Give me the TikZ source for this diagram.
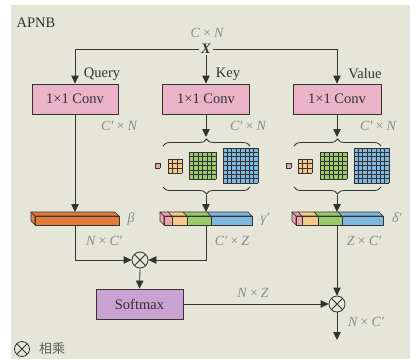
\documentclass[tikz,border=0pt]{standalone}
\usepackage{fontspec}
\setmainfont{Liberation Serif}
\newfontfamily\cjk{Noto Sans CJK SC}
\usetikzlibrary{arrows.meta,decorations.pathreplacing,calc}
\definecolor{bg}{HTML}{E5E6D8}
\definecolor{lc}{HTML}{333333}
\definecolor{labgray}{HTML}{8C8C8C}
\definecolor{convpink}{HTML}{EAB3C8}
\definecolor{softpurple}{HTML}{C9A2D2}
\definecolor{cpink}{HTML}{EBA3AE}
\definecolor{corange}{HTML}{F6C887}
\definecolor{cgreen}{HTML}{9ACA6C}
\definecolor{cblue}{HTML}{7DB6DE}
\definecolor{barorange}{HTML}{E27A38}
\tikzset{
  box/.style={draw=lc, line width=0.8pt, minimum height=30pt, inner sep=0pt, text=lc},
  lab/.style={text=labgray, font=\fontsize{14}{16}\selectfont\itshape, inner sep=0pt},
  txt/.style={text=lc, inner sep=0pt},
  gridl/.style={draw=lc, line width=0.55pt},
  mult/.style={circle, draw=lc, line width=0.8pt, minimum size=16pt, inner sep=0pt,
    path picture={\draw[lc, line width=0.8pt] (path picture bounding box.north west) -- (path picture bounding box.south east)
      (path picture bounding box.north east) -- (path picture bounding box.south west);}},
  conn/.style={draw=lc, line width=0.8pt},
  arr/.style={conn, -{Triangle[length=8pt,width=7.5pt]}},
  brc/.style={draw=lc, line width=0.8pt, decorate, decoration={brace, amplitude=7pt}}
}
\newcommand\gridsq[5]{%
  \begin{scope}[shift={(#1,#2)}]
    \fill[#5] (0,0) rectangle (#3,#3);
    \pgfmathsetmacro\cs{#3/#4}
    \foreach \i in {0,...,#4}{\draw[gridl] (\i*\cs,0) -- (\i*\cs,#3); \draw[gridl] (0,\i*\cs) -- (#3,\i*\cs);}
  \end{scope}}
\newcommand\barseg[3]{%
  \filldraw[fill=#3, draw=lc, line width=0.7pt, line join=round] (#1-4,212) -- (#2-4,212) -- (#2,216) -- (#1,216) -- cycle;
  \filldraw[fill=#3, draw=lc, line width=0.7pt] (#1,216) rectangle (#2,225);}
\newcommand\barleft[2]{%
  \filldraw[fill=#2, draw=lc, line width=0.7pt, line join=round] (#1-4,212) -- (#1,216) -- (#1,225) -- (#1-4,221) -- cycle;}
\begin{document}
\begin{tikzpicture}[x=1pt, y=-1pt, font=\fontsize{14.5}{17}\selectfont]
\useasboundingbox (0,0) rectangle (420,359);
\fill[bg] (11,5) rectangle (410,359);

% title and input
\node[txt] (title) at (36,23) {APNB};
\node[lab] (cn) at (207,33) {C\,×\,N};
\node[txt, inner sep=1.5pt] (X) at (206,49) {\bfseries\itshape X};

% conv boxes
\node[box, fill=convpink, minimum width=86pt] (c1) at (75,99) {1×1 Conv};
\node[box, fill=convpink, minimum width=87pt] (c2) at (206,99) {1×1 Conv};
\node[box, fill=convpink, minimum width=88pt] (c3) at (337,99) {1×1 Conv};

\node[txt] (q) at (102,74) {Query};
\node[txt] (k) at (228,74) {Key};
\node[txt] (v) at (365,74) {Value};

\draw[arr] (X.west) -| (c1.north);
\draw[arr] (X.east) -| (c3.north);
\draw[arr] (X.south) -- (c2.north);

\node[lab] (l1) at (119,126) {C′\,×\,N};
\node[lab] (l2) at (248,126) {C′\,×\,N};
\node[lab] (l3) at (378,126) {C′\,×\,N};

% braces
\coordinate (t2) at (206,137);
\coordinate (t3) at (337,137);
\draw[brc] (163,146) -- (250,146);
\draw[brc] (294,146) -- (381,146);
\draw[brc] (250,187) -- (163,187);
\draw[brc] (381,187) -- (294,187);
\coordinate (u2) at (206,195);
\coordinate (u3) at (337,195);
\draw[arr] (c2.south) -- (t2);
\draw[arr] (c3.south) -- (t3);

% pyramid grids
\gridsq{155}{163}{5}{1}{cpink}
\gridsq{168}{159}{14}{3}{corange}
\gridsq{189}{152}{27}{6}{cgreen}
\gridsq{223}{148}{35}{8}{cblue}
\gridsq{286}{163}{5}{1}{cpink}
\gridsq{298}{159}{14}{3}{corange}
\gridsq{320}{152}{27}{6}{cgreen}
\gridsq{354}{148}{35}{8}{cblue}

% bars
\barleft{35}{barorange}
\barseg{35}{119}{barorange}
\barleft{164}{cpink}
\barseg{164}{172}{cpink}
\barseg{172}{187}{corange}
\barseg{187}{211}{cgreen}
\barseg{211}{252}{cblue}
\barleft{296}{cpink}
\barseg{296}{302}{cpink}
\barseg{302}{318}{corange}
\barseg{318}{342}{cgreen}
\barseg{342}{383}{cblue}
\coordinate (b1t) at (75,212);
\coordinate (b2t) at (206,212);
\coordinate (b3t) at (337,212);
\coordinate (b1b) at (75,225);
\coordinate (b2b) at (206,225);
\coordinate (b3b) at (337,225);
\draw[arr] (c1.south) -- (b1t);
\draw[arr] (u2) -- (b2t);
\draw[arr] (u3) -- (b3t);

\node[lab] (beta) at (131,219) {β};
\node[lab] (gam) at (265,219) {γ′};
\node[lab] (del) at (397,218) {δ′};
\node[lab] (l4) at (104,241) {N\,×\,C′};
\node[lab] (l5) at (232,241) {C′\,×\,Z};
\node[lab] (l6) at (364,241) {Z\,×\,C′};

% multiplications and softmax
\node[mult] (m1) at (140,260) {};
\node[box, fill=softpurple, minimum width=87pt] (sm) at (139.5,304) {Softmax};
\node[mult] (m2) at (337,304) {};
\coordinate (out) at (337,340);

\draw[arr] (b1b) |- (m1.west);
\draw[arr] (b2b) |- (m1.east);
\draw[arr] (m1.south) -- (sm.north);
\draw[arr] (sm.east) -- (m2.west);
\draw[arr] (b3b) -- (m2.north);
\draw[arr] (m2.south) -- (out);

\node[lab] (l7) at (253,293) {N\,×\,Z};
\node[lab] (l8) at (366,322) {N\,×\,C′};

% legend
\node[mult, minimum size=15pt] (leg) at (22,349) {};
\node[txt, text=lc!80, font=\fontsize{13}{15}\selectfont\cjk] (legt) at (52,349) {相乘};
\end{tikzpicture}
\end{document}
